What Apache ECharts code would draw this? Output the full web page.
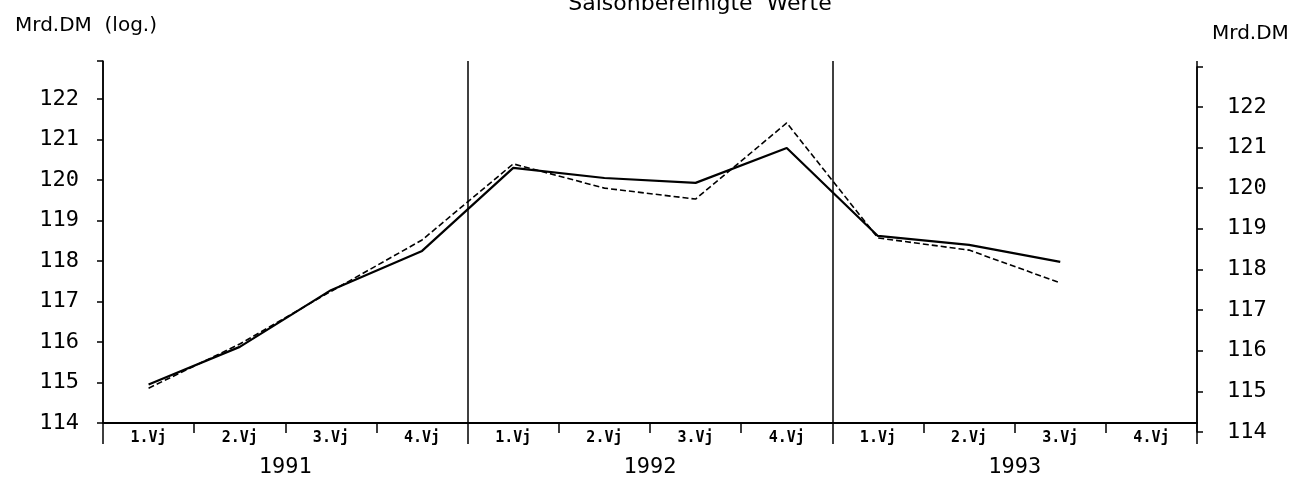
<!DOCTYPE html>
<html>
<head>
<meta charset="utf-8">
<script src="https://cdn.jsdelivr.net/npm/echarts@6/dist/echarts.min.js"></script>
<style>
  html, body { margin: 0; padding: 0; background: #fff; }
  #main { width: 1308px; height: 485px; }
</style>
</head>
<body>
<div id="main"></div>
<script>
// Vierteljahre, 1991 - 1993
const quarters = ['1.Vj', '2.Vj', '3.Vj', '4.Vj', '1.Vj', '2.Vj', '3.Vj', '4.Vj', '1.Vj', '2.Vj', '3.Vj', '4.Vj'];
const years = ['1991', '1992', '1993'];
// Mrd.DM, saisonbereinigt
const solidValues = [114.95, 115.88, 117.28, 118.25, 120.30, 120.05, 119.93, 120.79, 118.62, 118.40, 117.98, null];
const dashedValues = [114.86, 115.95, 117.25, 118.52, 120.40, 119.80, 119.53, 121.41, 118.57, 118.27, 117.46, null];

const tickFont = 'DejaVu Sans Mono';
const textFont = 'DejaVu Sans';
const intOnly = v => (Math.abs(v - Math.round(v)) < 1e-6 ? String(Math.round(v)) : '');

var myChart = echarts.init(document.getElementById('main'));
myChart.setOption({
    animation: false,
    backgroundColor: '#fff',
    title: [
        { text: 'Saisonbereinigte  Werte', left: 695, textAlign: 'center', top: -12,
          textStyle: { fontFamily: textFont, fontSize: 22, fontWeight: 'normal', color: '#000' } },
        { text: 'Mrd.DM  (log.)', left: 10, top: 11,
          textStyle: { fontFamily: textFont, fontSize: 20, fontWeight: 'normal', color: '#000' } },
        { text: 'Mrd.DM', left: 1207, top: 19,
          textStyle: { fontFamily: textFont, fontSize: 20, fontWeight: 'normal', color: '#000' } }
    ],
    grid: [
        { left: 103, right: 111, top: 61, bottom: 62 },
        { left: 103, right: 111, top: 67, bottom: 53 }
    ],
    xAxis: [
        {
            gridIndex: 0, type: 'category', data: quarters, boundaryGap: true, position: 'bottom',
            axisLine: { lineStyle: { color: '#000', width: 2 } },
            axisTick: { show: true, interval: 0, length: 10, lineStyle: { color: '#000', width: 1.5 } },
            axisLabel: { interval: 0, margin: 8, color: '#000', fontFamily: tickFont, fontSize: 15, fontWeight: 'bold' },
            splitLine: { show: false }
        },
        {
            gridIndex: 0, type: 'category', data: years, boundaryGap: true, position: 'bottom', offset: 0,
            axisLine: { show: false },
            axisTick: { show: true, interval: 0, length: 21, lineStyle: { color: '#000', width: 1.5 } },
            axisLabel: { interval: 0, margin: 33, color: '#000', fontFamily: tickFont, fontSize: 22 },
            splitLine: { show: true, interval: 0, lineStyle: { color: '#000', width: 1.5 } }
        },
        { gridIndex: 1, type: 'category', data: quarters, show: false }
    ],
    yAxis: [
        {
            gridIndex: 0, type: 'value', position: 'left', min: 114, max: 122.94, interval: 1,
            axisLine: { show: true, lineStyle: { color: '#000', width: 1.5 } },
            axisTick: { show: true, length: 6, lineStyle: { color: '#000', width: 1.5 } },
            axisLabel: { margin: 24, color: '#000', fontFamily: tickFont, fontSize: 22, formatter: intOnly },
            splitLine: { show: false }
        },
        {
            gridIndex: 1, type: 'value', position: 'right', min: 114, max: 122.98, interval: 1,
            axisLine: { show: true, lineStyle: { color: '#000', width: 1.5 } },
            axisTick: { show: true, length: 6, lineStyle: { color: '#000', width: 1.5 } },
            axisLabel: { margin: 30, color: '#000', fontFamily: tickFont, fontSize: 22, formatter: intOnly },
            splitLine: { show: false }
        }
    ],
    series: [
        {
            name: 'durchgezogen', type: 'line', xAxisIndex: 0, yAxisIndex: 0,
            data: solidValues, symbol: 'none', connectNulls: false,
            lineStyle: { color: '#000', width: 2.2, type: 'solid' }
        },
        {
            name: 'gestrichelt', type: 'line', xAxisIndex: 0, yAxisIndex: 0,
            data: dashedValues, symbol: 'none', connectNulls: false,
            lineStyle: { color: '#000', width: 1.6, type: [6, 3] }
        }
    ]
});
</script>
</body>
</html>
